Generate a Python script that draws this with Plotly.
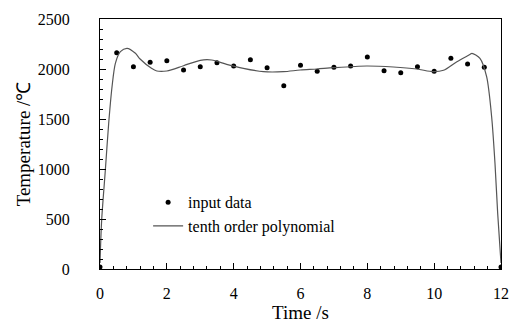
import plotly.graph_objects as go

# input data
time_data = [0, 0.5, 1.0, 1.5, 2.0, 2.5, 3.0, 3.5, 4.0, 4.5, 5.0, 5.5, 6.0,
             6.5, 7.0, 7.5, 8.0, 8.5, 9.0, 9.5, 10.0, 10.5, 11.0, 11.5, 12.0]
temp_data = [20, 2163, 2023, 2067, 2083, 1990, 2023, 2063, 2030, 2093, 2013, 1833, 2037,
             1977, 2017, 2030, 2120, 1983, 1963, 2023, 1977, 2107, 2050, 2017, 20]

# tenth order polynomial curve
time_fit = [0.0, 0.05, 0.16, 0.26, 0.36, 0.46, 0.61, 0.81, 1.06, 1.2, 1.54, 1.7, 2.0,
            2.5, 3.0, 3.34, 3.79, 4.29, 4.89, 5.49, 5.99, 6.49, 6.99, 7.98, 8.78,
            9.48, 9.98, 10.28, 10.68, 11.08, 11.13, 11.37, 11.57, 11.72, 11.82, 11.9, 12.0]
temp_fit = [60, 490, 990, 1457, 1823, 2057, 2173, 2207, 2157, 2100, 2007, 1980, 1980,
            2033, 2087, 2090, 2047, 2007, 1973, 1973, 1990, 2000, 2013, 2030, 2020,
            2000, 1973, 1987, 2073, 2147, 2157, 2107, 1923, 1523, 1057, 560, 60]

x_ticks = [0, 2, 4, 6, 8, 10, 12]
y_ticks = [0, 500, 1000, 1500, 2000, 2500]

font_family = "Liberation Serif, Times New Roman, serif"

fig = go.Figure()
fig.add_trace(go.Scatter(
    x=time_data, y=temp_data, mode="markers", name="input data",
    marker=dict(color="black", size=5),
))
fig.add_trace(go.Scatter(
    x=time_fit, y=temp_fit, mode="lines", name="tenth order polynomial",
    line=dict(color="#555555", width=1.2, shape="spline", smoothing=0.8),
))

fig.update_layout(
    width=517, height=327,
    margin=dict(l=100, r=16, t=19, b=58, autoexpand=False),
    paper_bgcolor="white", plot_bgcolor="white",
    font=dict(family=font_family, size=16, color="black"),
    showlegend=True,
    legend=dict(x=0.12, y=0.335, xanchor="left", yanchor="top",
                bgcolor="rgba(0,0,0,0)", font=dict(size=16),
                itemwidth=30, tracegroupgap=0),
)
fig.update_xaxes(
    range=[x_ticks[0], x_ticks[-1]], tickmode="linear",
    tick0=x_ticks[0], dtick=x_ticks[1] - x_ticks[0],
    showgrid=False, zeroline=False,
    showline=True, linecolor="black", linewidth=1, mirror=True,
    ticks="inside", ticklen=6, tickcolor="black", tickwidth=1,
    minor=dict(dtick=0.4, tick0=0, ticks="inside", ticklen=3, tickcolor="black"),
    title=dict(text="Time /s", standoff=4),
    ticklabelstandoff=10,
)
fig.update_yaxes(
    range=[y_ticks[0], y_ticks[-1]], tickmode="linear",
    tick0=y_ticks[0], dtick=y_ticks[1] - y_ticks[0],
    showgrid=False, zeroline=False,
    showline=True, linecolor="black", linewidth=1, mirror=True,
    ticks="inside", ticklen=6, tickcolor="black", tickwidth=1,
    minor=dict(dtick=100, tick0=0, ticks="inside", ticklen=3, tickcolor="black"),
    title=dict(text="Temperature /℃", standoff=2),
    ticklabelstandoff=26,
)

fig.write_html("out.html", config={"displayModeBar": False},
               post_script="document.body.style.margin='0';")
